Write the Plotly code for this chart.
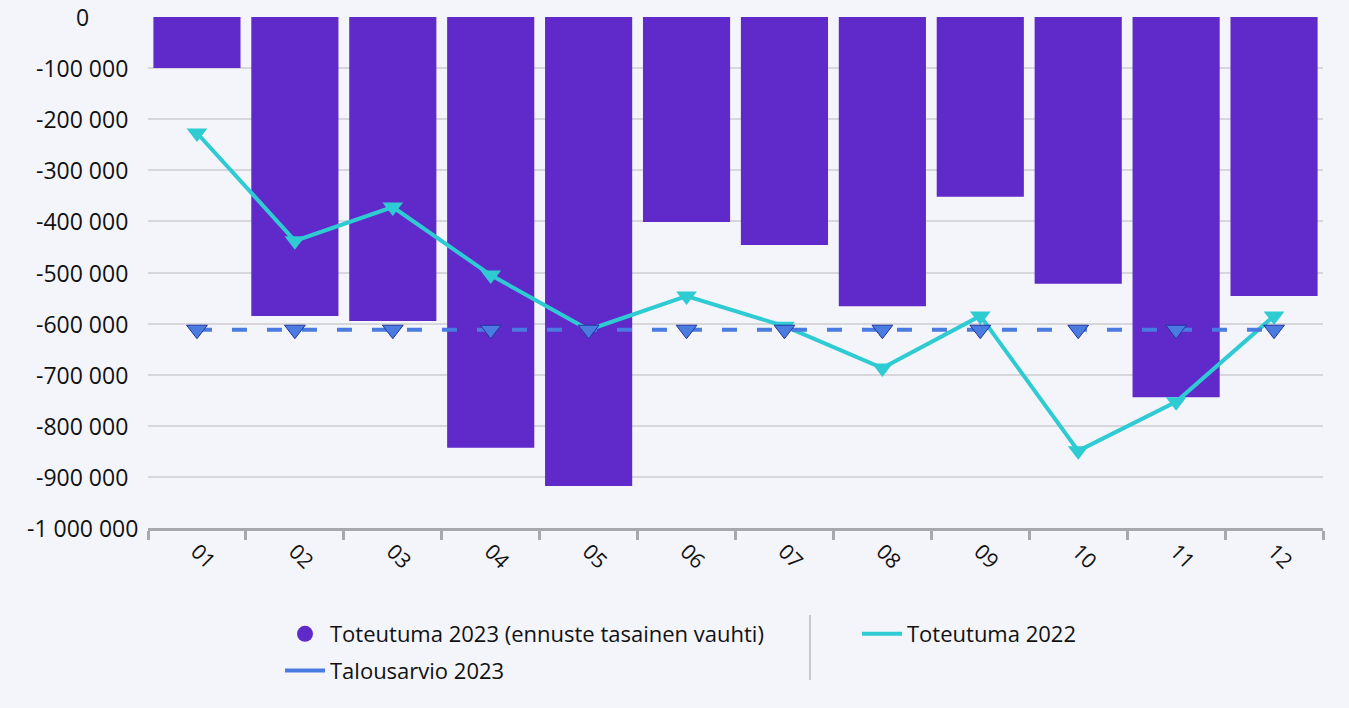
import plotly.graph_objects as go

months = ["01", "02", "03", "04", "05", "06", "07", "08", "09", "10", "11", "12"]
toteutuma_2023 = [-100000, -585000, -595000, -843000, -918000, -401000,
                  -446000, -566000, -352000, -522000, -744000, -546000]
toteutuma_2022 = [-227000, -438000, -372000, -505000, -612000, -546000,
                  -605000, -687000, -585000, -849000, -753000, -585000]
talousarvio_2023 = [-612000] * 12

y_tickvals = [0, -100000, -200000, -300000, -400000, -500000, -600000,
              -700000, -800000, -900000, -1000000]
y_ticktext = ["0", "-100 000", "-200 000", "-300 000", "-400 000", "-500 000",
              "-600 000", "-700 000", "-800 000", "-900 000", "-1 000 000"]

PURPLE = "#6029C9"
TEAL = "#2ECBD3"
BLUE = "#4A7BE0"
BG = "#F4F5FA"
FONT = "Open Sans"
TXT = "#111111"

L, R, T, B = 148, 26, 17, 180
W, H = 1349, 708
PW = W - L - R
PH = H - T - B


def px_x(x):
    return (x - L) / PW


def px_y(y):
    return (H - B - y) / PH


fig = go.Figure()

fig.add_trace(go.Bar(
    x=months, y=toteutuma_2023, marker=dict(color=PURPLE, line=dict(width=0)),
    showlegend=False, name="Toteutuma 2023 (ennuste tasainen vauhti)"))

fig.add_trace(go.Scatter(
    x=months, y=toteutuma_2022, mode="lines+markers",
    line=dict(color=TEAL, width=4),
    marker=dict(symbol="triangle-down", size=18, color=TEAL),
    showlegend=False, name="Toteutuma 2022"))

fig.add_trace(go.Scatter(
    x=months, y=talousarvio_2023, mode="lines+markers",
    line=dict(color=BLUE, width=4, dash="15px,20px"),
    marker=dict(symbol="triangle-down", size=18, color=BLUE,
                line=dict(color="#2233A0", width=1)),
    showlegend=False, name="Talousarvio 2023"))

# legend entries
fig.add_trace(go.Scatter(
    x=[None], y=[None], mode="markers", name="Toteutuma 2023 (ennuste tasainen vauhti)",
    marker=dict(symbol="circle", size=24, color=PURPLE), legend="legend",
    legendgroup="a"))
fig.add_trace(go.Scatter(
    x=[None], y=[None], mode="lines", name="Talousarvio 2023",
    line=dict(color=BLUE, width=4), legend="legend", legendgroup="b"))
fig.add_trace(go.Scatter(
    x=[None], y=[None], mode="lines", name="Toteutuma 2022",
    line=dict(color=TEAL, width=4), legend="legend2", legendgroup="c"))

legend_common = dict(
    orientation="v", xanchor="left", yanchor="top", y=px_y(613),
    font=dict(size=22, color=TXT), bgcolor="rgba(0,0,0,0)",
    itemsizing="trace", itemwidth=40, tracegroupgap=5)

# y-axis labels, centred like the reference
annotations = [
    dict(x=px_x(82), xref="paper", y=v, yref="y", text=t, showarrow=False,
         xanchor="center", yanchor="middle", font=dict(size=23, color=TXT))
    for v, t in zip(y_tickvals, y_ticktext)
]

fig.update_layout(
    width=W, height=H,
    paper_bgcolor=BG, plot_bgcolor=BG,
    margin=dict(l=L, r=R, t=T, b=B, autoexpand=False),
    font=dict(family=FONT, size=22, color=TXT),
    bargap=0.11,
    xaxis=dict(
        type="category", range=[-0.5, 11.5], tickangle=45, tickson="boundaries",
        ticks="outside", ticklen=9, tickwidth=3, tickcolor="#A8A8AC",
        showline=True, linecolor="#A8A8AC", linewidth=3,
        showgrid=False, tickfont=dict(size=21)),
    yaxis=dict(
        range=[-1000000, 0], tickvals=y_tickvals, ticktext=y_ticktext,
        showticklabels=False,
        showgrid=True, gridcolor="#D6D6DB", gridwidth=2,
        zeroline=False, showline=False, ticks=""),
    legend=dict(x=px_x(280), **legend_common),
    legend2=dict(x=px_x(857), **legend_common),
    annotations=annotations,
    shapes=[dict(type="line", xref="paper", yref="paper",
                 x0=px_x(810), x1=px_x(810),
                 y0=px_y(615), y1=px_y(680),
                 line=dict(color="#C8C8CC", width=2))],
)

fig.write_html("out.html", config={"displayModeBar": False},
               post_script="document.body.style.margin='0';document.body.style.background='%s';" % BG)
